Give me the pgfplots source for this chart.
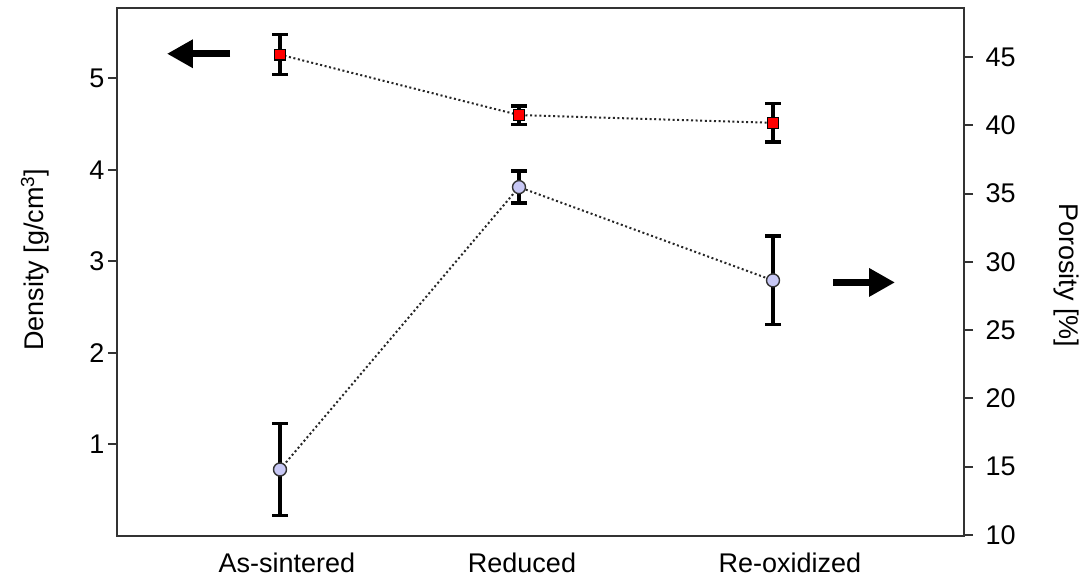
\documentclass[border=0pt]{standalone}
\usepackage{pgfplots}
\pgfplotsset{compat=1.18}
\usepackage{fontspec}
\setmainfont{Liberation Sans}
\usetikzlibrary{arrows.meta}
\definecolor{lav}{RGB}{200,200,245}
\begin{document}
\begin{tikzpicture}
\pgfplotsset{
 common/.style={width=847pt,height=528pt,scale only axis,xmin=0,xmax=847,
   /pgf/number format/assume math mode=true,
   tick label style={font=\fontsize{27}{32}\selectfont},
   label style={font=\fontsize{27}{32}\selectfont},
   axis line style={line width=2pt,black!80},
   every tick/.style={line width=2pt,black!80},
   major tick length=9pt,
   tick align=outside,
   clip=false},
 dots/.style={black!85, line width=2pt, dash pattern=on 2pt off 2.6pt},
 ebars/.style={error bars/.cd, y dir=both, y explicit,
   error bar style={line width=3.2pt,black,solid},
   error mark options={rotate=90,mark size=8pt,line width=3.4pt,black,solid}}
}
\begin{axis}[common, ymin=0, ymax=5.77, ytick={1,2,3,4,5}, ytick pos=left,
  xtick={170,405,673}, xticklabels={As-sintered,Reduced,Re-oxidized},
  xtick style={draw=none},
  xticklabel style={yshift=-4pt},
  ylabel={Density [g/cm\textsuperscript{3}]},
  ylabel style={at={(axis description cs:-0.097,0.523)},anchor=center}]
\addplot[dots, mark=square*, mark size=5.4pt,
  mark options={fill=red,draw=black,solid,line width=1.4pt}, ebars]
  coordinates {(163,5.26) +- (0,0.218) (402,4.60) +- (0,0.10) (656,4.515) +- (0,0.21)};
\coordinate (BL) at (rel axis cs:0,0);
\coordinate (TR) at (rel axis cs:1,1);
\draw[line width=6.5pt, -{Triangle[length=26pt,width=27pt]}] (axis cs:113,5.27) -- (axis cs:50,5.27);
\end{axis}
\begin{axis}[common, ymin=9.93, ymax=48.6, axis y line*=right, axis x line=none,
  ytick={10,15,...,45},
  yticklabel style={xshift=9pt},
  ylabel={Porosity [\%]},
  ylabel style={at={(axis description cs:1.121,0.494)},anchor=center,rotate=180}]
\addplot[dots, mark=*, mark size=6.5pt,
  mark options={fill=lav,draw=black!80,solid,line width=1.4pt}, ebars]
  coordinates {(163,14.8) +- (0,3.35) (402,35.48) +- (0,1.17) (656,28.65) +- (0,3.25)};
\draw[line width=6.5pt, -{Triangle[length=26pt,width=27pt]}] (axis cs:716,28.5) -- (axis cs:778,28.5);
\end{axis}
\pgfresetboundingbox
\useasboundingbox ([shift={(-117pt,-41pt)}]BL) rectangle ([shift={(123pt,8pt)}]TR);
\end{tikzpicture}
\end{document}
